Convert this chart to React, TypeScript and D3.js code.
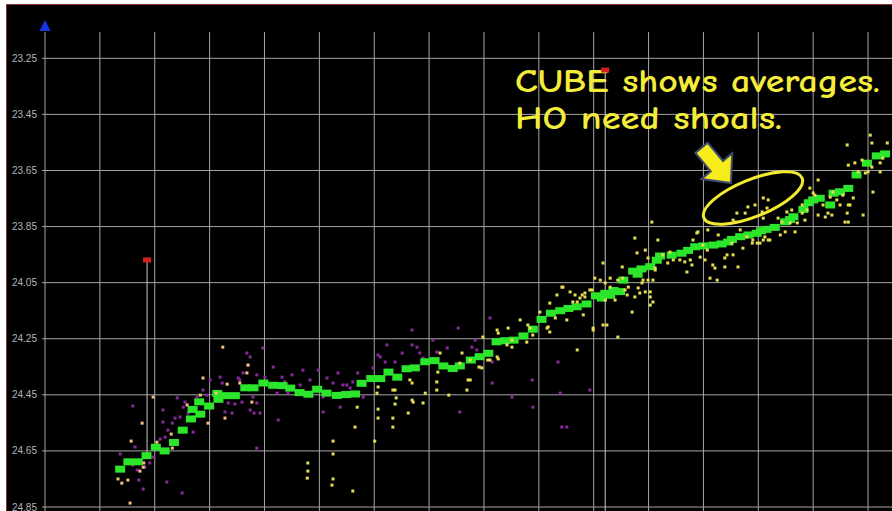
import React from "react";
import * as d3 from "d3";

// Depth axis ticks (m)
const depthTicks = [23.25, 23.45, 23.65, 23.85, 24.05, 24.25, 24.45, 24.65, 24.85];
// Along-track grid spacing (m)
const distTicks = d3.range(0, 151, 10);

// CUBE surface nodes: [distance, depth]
const cubeNodes: [number, number][] = [
  [13.7, 24.715], [15.2, 24.689], [16.9, 24.689], [18.5, 24.667], [20.2, 24.637],
  [21.8, 24.65], [23.5, 24.62], [25.1, 24.576], [26.6, 24.536], [26.9, 24.502],
  [28.3, 24.519], [28.1, 24.475], [29.9, 24.49], [31.4, 24.445], [31.6, 24.466],
  [32.9, 24.453], [34.6, 24.453], [36.5, 24.425], [38.0, 24.425], [39.8, 24.408],
  [41.6, 24.416], [43.3, 24.417], [44.7, 24.426], [46.4, 24.442], [48.0, 24.448],
  [49.6, 24.43], [51.3, 24.444], [53.2, 24.452], [54.9, 24.449], [56.5, 24.447],
  [57.7, 24.409], [59.5, 24.392], [61.1, 24.392], [62.6, 24.369], [64.2, 24.387],
  [65.9, 24.357], [67.4, 24.354], [69.3, 24.332], [71.0, 24.328], [72.6, 24.347],
  [74.3, 24.356], [75.6, 24.347], [77.6, 24.326], [79.2, 24.314], [80.8, 24.302],
  [82.3, 24.261], [83.8, 24.257], [85.4, 24.255], [87.2, 24.24], [88.9, 24.216],
  [90.5, 24.181], [92.2, 24.159], [93.9, 24.15], [95.4, 24.142], [96.9, 24.136],
  [98.7, 24.126], [100.4, 24.097], [102.1, 24.088], [103.6, 24.078], [104.8, 24.082],
  [105.4, 24.041], [107.2, 24.009], [108.7, 24.001], [110.3, 23.993], [112.1, 23.955],
  [114.2, 23.952], [116.0, 23.945], [118.5, 23.922], [120.0, 23.919], [121.8, 23.916],
  [123.3, 23.912], [125.2, 23.896], [126.7, 23.886], [128.2, 23.88], [129.7, 23.874],
  [131.5, 23.86], [133.0, 23.853], [134.9, 23.833], [136.4, 23.815], [138.2, 23.789],
  [140.0, 23.755], [141.2, 23.749], [143.1, 23.773], [143.7, 23.731], [144.9, 23.726],
  [146.4, 23.714], [147.9, 23.666], [149.8, 23.624], [151.6, 23.598], [153.1, 23.591],
  [101.5, 24.105], [103.0, 24.095], [108.0, 24.02], [111.5, 23.97], [117.2, 23.935],
  [124.5, 23.905], [130.5, 23.865], [135.8, 23.825], [139.2, 23.765],
];

// Soundings from the first line (purple)
const line1Soundings: [number, number][] = [
  [13.7, 24.661], [14.6, 24.693], [16.0, 24.49], [16.0, 24.7], [16.4, 24.636], [16.8, 24.718],
  [17.1, 24.754], [17.9, 24.786], [18.2, 24.708], [19.1, 24.693], [19.7, 24.672], [20.4, 24.647],
  [21.0, 24.608], [21.5, 24.504], [21.5, 24.547], [21.9, 24.601], [22.2, 24.761], [22.4, 24.576],
  [23.2, 24.551], [23.7, 24.533], [24.1, 24.461], [24.6, 24.529], [25.0, 24.8], [25.2, 24.494],
  [25.5, 24.476], [26.1, 24.515], [27.0, 24.583], [27.7, 24.458], [28.8, 24.433], [29.5, 24.451],
  [30.1, 24.397], [30.6, 24.494], [31.9, 24.387], [32.3, 24.408], [32.8, 24.511], [33.4, 24.479],
  [34.1, 24.515], [34.6, 24.483], [35.2, 24.39], [35.5, 24.397], [35.9, 24.476], [36.1, 24.372],
  [36.8, 24.301], [37.0, 24.344], [37.4, 24.315], [37.4, 24.504], [37.9, 24.458], [38.1, 24.515],
  [38.6, 24.479], [38.6, 24.64], [38.6, 24.379], [39.2, 24.515], [39.7, 24.283], [40.1, 24.387],
  [41.6, 24.351], [42.3, 24.444], [42.5, 24.54], [43.2, 24.387], [43.7, 24.404], [44.3, 24.444],
  [45.0, 24.379], [46.5, 24.415], [47.0, 24.362], [48.3, 24.397], [49.8, 24.362], [50.7, 24.458],
  [50.7, 24.511], [51.4, 24.39], [52.5, 24.408], [53.4, 24.372], [53.8, 24.494], [54.3, 24.415],
  [55.0, 24.415], [55.6, 24.426], [56.1, 24.404], [57.0, 24.372], [58.0, 24.458], [58.7, 24.387],
  [59.8, 24.354], [60.7, 24.308], [61.1, 24.315], [62.0, 24.333], [62.3, 24.272], [63.8, 24.333],
  [65.1, 24.301], [66.9, 24.219], [66.9, 24.272], [67.8, 24.28], [68.3, 24.301], [68.9, 24.319],
  [70.7, 24.255], [71.4, 24.297], [73.3, 24.283], [75.3, 24.212], [75.6, 24.511], [77.8, 24.28],
  [78.4, 24.255], [78.7, 24.29], [79.3, 24.351], [81.1, 24.176], [81.5, 24.333], [81.5, 24.408],
  [85.1, 24.458], [88.8, 24.397], [88.9, 24.494], [93.5, 24.333], [93.9, 24.444], [94.2, 24.565],
  [95.1, 24.565], [99.3, 24.433],
];

// Soundings from the second line (peach)
const line2Soundings: [number, number][] = [
  [19.7, 24.458], [17.7, 24.551], [15.7, 24.615], [20.4, 24.619], [15.1, 24.754], [13.3, 24.75],
  [14.0, 24.765], [15.5, 24.836], [17.9, 24.708], [17.3, 24.722], [18.0, 24.693], [23.0, 24.59],
  [23.2, 24.64], [25.9, 24.486], [29.7, 24.551], [32.8, 24.533], [33.2, 24.412], [35.5, 24.408],
  [37.7, 24.476], [28.3, 24.451], [31.2, 24.444], [32.4, 24.28], [28.8, 24.39], [37.0, 24.344],
  [36.8, 24.372],
];

// Soundings from the third line (yellow)
const line3Soundings: [number, number][] = [
  [56.9, 24.494], [56.5, 24.565], [52.5, 24.615], [52.5, 24.661], [47.9, 24.693], [47.9, 24.722],
  [47.8, 24.747], [52.5, 24.75], [52.3, 24.772], [56.1, 24.793], [60.1, 24.615], [60.7, 24.501],
  [60.7, 24.533], [60.5, 24.444], [60.7, 24.422], [63.4, 24.533], [63.4, 24.565], [63.8, 24.483],
  [64.0, 24.461], [63.4, 24.433], [66.2, 24.515], [66.5, 24.397], [66.9, 24.408], [67.1, 24.476],
  [68.9, 24.479], [69.3, 24.444], [71.4, 24.404], [71.6, 24.369], [71.4, 24.433], [73.6, 24.451],
  [72.0, 24.301], [76.0, 24.301], [75.6, 24.337], [77.5, 24.326], [77.5, 24.397], [79.1, 24.351],
  [79.6, 24.354], [80.7, 24.326], [79.8, 24.244], [82.4, 24.219], [82.6, 24.23], [84.4, 24.212],
  [82.6, 24.322], [85.1, 24.255], [84.2, 24.272], [86.6, 24.183], [88.0, 24.201], [88.4, 24.212],
  [88.9, 24.237], [87.8, 24.262], [90.2, 24.155], [91.5, 24.212], [92.0, 24.226], [93.3, 24.094],
  [94.2, 24.066], [95.7, 24.083], [96.6, 24.094], [97.9, 24.094], [98.4, 24.101], [97.0, 24.119],
  [96.2, 24.119], [98.1, 24.165], [95.1, 24.183], [93.0, 24.176], [97.0, 24.29], [99.9, 24.219],
  [99.3, 24.076], [66.9, 24.469], [63.8, 24.433], [77.1, 24.397], [76.9, 24.433], [81.1, 24.326],
  [82.4, 24.315], [85.1, 24.28], [92.0, 24.123], [91.7, 24.208], [102.4, 24.201], [104.4, 24.244],
  [102.1, 24.112], [101.7, 23.98], [103.0, 24.034], [103.0, 24.066], [104.4, 24.041], [105.3, 24.034],
  [106.3, 24.066], [107.5, 24.101], [108.8, 24.051], [109.4, 24.083], [110.3, 24.101], [110.3, 24.13],
  [110.8, 24.041], [111.2, 23.998], [107.5, 23.891], [109.4, 23.934], [110.6, 23.834], [111.7, 23.898],
  [113.5, 23.98], [113.9, 23.941], [115.7, 23.969], [117.6, 23.969], [117.0, 24.012], [118.1, 23.898],
  [119.0, 23.869], [119.4, 23.959], [120.3, 23.969], [120.7, 23.934], [121.7, 23.987], [122.1, 23.998],
  [121.2, 24.034], [122.5, 24.041], [123.9, 23.994], [123.9, 23.962], [122.7, 23.88], [125.2, 23.909],
  [125.4, 23.951], [126.3, 23.994], [127.2, 23.927], [126.7, 23.862], [127.9, 23.887], [129.0, 23.898],
  [129.8, 23.909], [130.9, 23.898], [131.2, 23.887], [132.1, 23.898], [131.8, 23.755], [130.9, 23.748],
  [129.4, 23.773], [128.1, 23.78], [127.6, 23.802], [126.1, 23.802], [125.8, 23.834], [130.7, 23.798],
  [131.6, 23.784], [133.6, 23.82], [134.3, 23.834], [135.2, 23.798], [136.1, 23.791], [135.8, 23.837],
  [136.7, 23.869], [134.0, 23.88], [139.4, 23.713], [140.9, 23.684], [140.0, 23.73], [138.0, 23.773],
  [138.9, 23.791], [138.5, 23.827], [140.9, 23.809], [142.2, 23.816], [143.4, 23.809], [146.2, 23.802],
  [141.8, 23.773], [143.1, 23.745], [144.3, 23.755], [143.6, 23.727], [146.4, 23.773], [145.8, 23.834],
  [149.1, 23.809], [147.3, 23.748], [146.4, 23.631], [147.6, 23.623], [148.2, 23.655], [149.5, 23.659],
  [150.7, 23.638], [150.9, 23.727], [152.2, 23.623], [152.7, 23.606], [146.2, 23.559], [150.7, 23.552],
  [153.5, 23.552], [148.9, 23.613], [150.4, 23.524], [94.4, 24.066], [97.5, 24.105], [98.4, 24.087],
  [99.7, 24.076], [100.2, 24.034], [101.2, 24.041], [102.1, 24.051], [103.9, 24.112], [105.7, 24.076],
  [106.1, 24.094], [105.2, 23.994], [107.0, 24.155], [107.9, 23.944], [108.1, 24.069], [108.4, 24.087],
  [109.0, 24.041], [109.9, 23.962], [110.3, 24.083], [110.8, 24.119], [111.2, 24.005], [109.9, 24.041],
  [101.7, 24.201], [99.9, 24.212], [112.6, 23.951], [114.5, 23.969], [116.6, 23.976], [117.9, 23.987],
  [118.8, 23.873], [119.9, 23.916], [124.3, 23.951], [125.4, 23.827], [120.8, 23.862], [128.9, 23.909],
  [130.3, 23.909], [131.8, 23.898], [130.9, 23.82], [134.9, 23.869], [137.1, 23.837], [138.0, 23.802],
  [140.3, 23.738], [142.7, 23.802], [144.9, 23.773], [145.4, 23.738], [146.7, 23.773], [146.4, 23.834],
  [150.0, 23.655], [152.2, 23.655],
];

// Flagged fliers: sounding depth and the surface depth beneath it
const flaggedDist = [18.6, 102.1];
const flaggedDepth = [23.969, 23.292];
const flaggedFoot = [24.675, 24.9];

const W = 892;
const H = 511;

export default function App() {
  const x = d3.scaleLinear().domain([0, 150]).range([45, 868.05]);
  const y = d3.scaleLinear().domain([23.25, 24.85]).range([58.3, 507]);

  const gridColor = "#a6a6a6";
  const dot = (arr: [number, number][], color: string, key: string) =>
    arr.map(([d, v], i) => (
      <rect key={key + i} x={x(d) - 1.5} y={y(v) - 1.5} width={3} height={3} fill={color} />
    ));

  // Block arrow pointing along +x with its tip at the origin
  const arrowPath = "M0,0 L-22,-20 L-22,-8 L-46,-8 L-46,8 L-22,8 L-22,20 Z";

  return (
    <div style={{ position: "absolute", left: 0, top: 0 }}>
      <svg width={W} height={H} style={{ display: "block", background: "#ffffff" }}>
        <defs>
          <clipPath id="plotClip">
            <rect x={7} y={5} width={W - 7} height={H - 5} />
          </clipPath>
        </defs>
        <rect x={6.5} y={4.5} width={W} height={H} fill="#000000" stroke="#8a3434" strokeWidth={1} />
        <g clipPath="url(#plotClip)">
          {/* grid */}
          {distTicks.map((t) => (
            <line key={"vx" + t} x1={x(t)} x2={x(t)} y1={32} y2={H} stroke={gridColor} strokeWidth={1} />
          ))}
          {depthTicks.map((t) => (
            <line key={"hy" + t} x1={42} x2={W} y1={y(t)} y2={y(t)} stroke={gridColor} strokeWidth={1} />
          ))}
          {depthTicks.map((t) => (
            <text
              key={"ly" + t}
              x={37}
              y={y(t)}
              dy="0.35em"
              textAnchor="end"
              fontFamily="'Liberation Sans', Arial, sans-serif"
              fontSize={10}
              fill="#b4b4b4"
            >
              {t.toFixed(2)}
            </text>
          ))}
          {/* blue marker at the start of the track */}
          <path d={`M${x(0)},20 L${x(0) + 5.5},31 L${x(0) - 5.5},31 Z`} fill="#1434e6" />

          {/* flier drop lines */}
          {flaggedDist.map((d, i) => (
            <line
              key={"fl" + i}
              x1={x(d)}
              x2={x(d)}
              y1={y(flaggedDepth[i])}
              y2={y(flaggedFoot[i])}
              stroke="#c8c8c8"
              strokeWidth={1}
            />
          ))}

          {dot(line1Soundings, "#87299a", "p")}
          {cubeNodes.map(([d, v], i) => (
            <rect key={"c" + i} x={x(d) - 5} y={y(v) - 3.5} width={10} height={7} fill="#2ce62c" />
          ))}
          {dot(line2Soundings, "#f2c07c", "o")}
          {dot(line3Soundings, "#e6de52", "yv")}

          {/* annotation */}
          <text
            x={515}
            y={92}
            fontFamily="'Comic Sans MS', 'Comic Neue', 'DejaVu Sans', sans-serif"
            fontWeight="bold"
            fontSize={33}
            fill="#f4ec3a"
            textLength={365}
            lengthAdjust="spacingAndGlyphs"
          >
            CUBE shows averages.
          </text>
          <text
            x={515}
            y={129}
            fontFamily="'Comic Sans MS', 'Comic Neue', 'DejaVu Sans', sans-serif"
            fontWeight="bold"
            fontSize={33}
            fill="#f4ec3a"
            textLength={267}
            lengthAdjust="spacingAndGlyphs"
          >
            HO need shoals.
          </text>
          <path
            d={arrowPath}
            transform="translate(731,183) rotate(50)"
            fill="#f6ec1c"
            stroke="#3c4a6c"
            strokeWidth={2}
            strokeLinejoin="miter"
          />
          <ellipse
            cx={753}
            cy={198}
            rx={53}
            ry={18.5}
            transform="rotate(-22 753 198)"
            fill="none"
            stroke="#f2ea30"
            strokeWidth={3}
          />

          {/* flagged fliers */}
          {flaggedDist.map((d, i) => (
            <rect key={"fr" + i} x={x(d) - 4} y={y(flaggedDepth[i]) - 2.5} width={8} height={5} fill="#d42020" />
          ))}
        </g>
      </svg>
    </div>
  );
}
